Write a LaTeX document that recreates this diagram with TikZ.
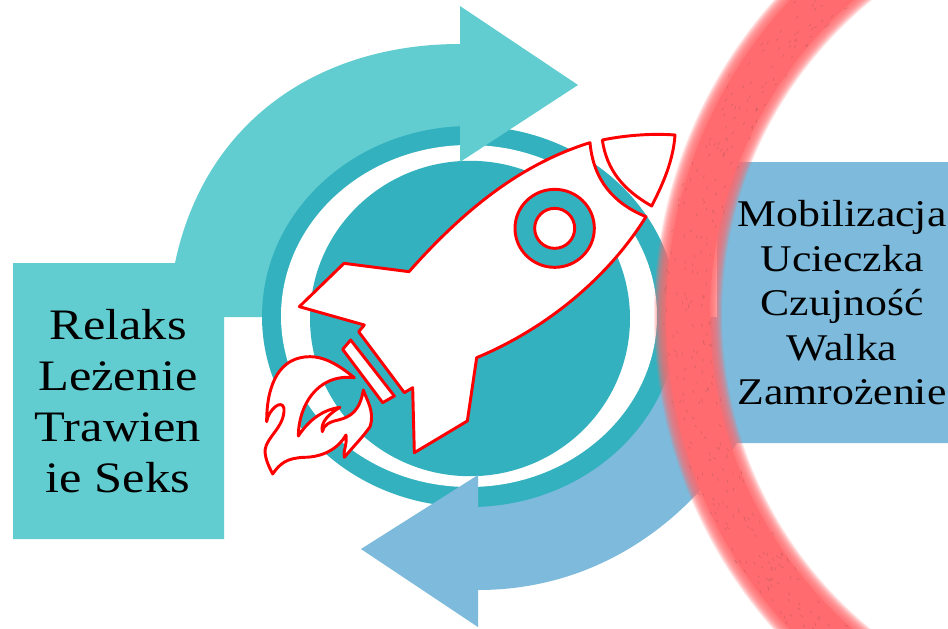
\documentclass[tikz,border=0pt]{standalone}
\usepackage{fontspec}
\usetikzlibrary{calc}
\setmainfont[FakeStretch=1.16]{Liberation Serif}
\definecolor{lightteal}{HTML}{62CDD0}
\definecolor{ringteal}{HTML}{33B1BF}
\definecolor{softblue}{HTML}{7DBADB}
\definecolor{hazered}{HTML}{FF6B6E}
\definecolor{fleck}{HTML}{B85A60}
\tikzset{
  rocketline/.style={draw=red,line width=2.2pt,line join=round,fill=white},
  labeltext/.style={align=center,text=black,inner sep=0pt}
}
\begin{document}
\begin{tikzpicture}[x=0.75pt,y=-0.75pt]
\clip (0,0) rectangle (948,628);
\fill[white] (0,0) rectangle (948,628);
% light arrow body and box
\fill[lightteal] (13,263) -- (175,263) .. controls (205,120) and (320,44) .. (460,44)
  -- (460,300) -- (300,317) -- (224,317) -- (224,539) -- (13,539) -- cycle;
% blue arrow body and box
\fill[softblue] (717,162) -- (948,162) -- (948,443) -- (737,443)
  .. controls (680,530) and (590,590) .. (478,590) -- (478,400) -- (640,317) -- (717,317) -- cycle;
% ring and disk
\fill[ringteal] (470,316.5) ellipse [x radius=208,y radius=190.5];
\fill[white] (469,316) ellipse [x radius=188,y radius=171];
\fill[ringteal] (470,318.5) ellipse [x radius=160,y radius=157.7];
% arrow heads
\fill[lightteal] (460,6) -- (578,85) -- (460,162) -- cycle;
\fill[softblue] (478,475) -- (361,549) -- (478,627) -- cycle;
% rocket
\begin{scope}[shift={(260,120)},scale=1/3]
\path[rocketline] (990,68) .. controls (790,130) and (620,260) .. (447,455)
  -- (252,430) -- (118,560) -- (313,615) -- (296,635) -- (433,818) -- (458,803)
  -- (463,998) -- (622,903) -- (650,713)
  .. controls (850,630) and (1040,480) .. (1158,290)
  .. controls (1060,250) and (1000,180) .. (990,68) -- cycle;
\path[rocketline] (1027,60) .. controls (1100,45) and (1180,40) .. (1245,45)
  .. controls (1240,120) and (1210,190) .. (1175,258)
  .. controls (1090,210) and (1040,150) .. (1027,60) -- cycle;
\path[rocketline,fill=ringteal] (884,325) ellipse [x radius=119,y radius=117];
\path[rocketline] (884,325) circle [radius=60];
\path[rocketline] (272,660) -- (403,828) -- (368,848) -- (248,688) -- cycle;
\path[rocketline] (283,773) .. controls (230,730) and (190,710) .. (150,710)
  .. controls (60,710) and (20,790) .. (20,905)
  .. controls (25,870) and (65,835) .. (72,865)
  .. controls (75,920) and (20,950) .. (15,990)
  .. controls (15,1020) and (30,1045) .. (38,1062)
  .. controls (60,1030) and (80,1015) .. (130,1012)
  .. controls (190,1012) and (235,985) .. (258,945)
  .. controls (262,975) and (248,995) .. (253,1012)
  .. controls (275,985) and (310,950) .. (330,920)
  .. controls (345,875) and (320,840) .. (310,810)
  .. controls (300,870) and (275,890) .. (235,900)
  .. controls (210,905) and (190,915) .. (187,935)
  .. controls (180,905) and (210,880) .. (240,862)
  .. controls (180,870) and (140,910) .. (115,948)
  .. controls (115,860) and (170,760) .. (283,773) -- cycle;
\end{scope}
% blurred arc
\foreach \w in {68,66,...,46}{
  \draw[hazered,line width=0.75pt*\w,opacity=0.17] (1127.5,315) circle [radius=439.5];
}
\draw[hazered,line width=0.75pt*44] (1127.5,315) circle [radius=439.5];
\pgfmathsetseed{7}
\foreach \k in {1,...,320}{
  \pgfmathsetmacro{\ang}{130+100*rnd}
  \pgfmathsetmacro{\rad}{416+48*rnd}
  \pgfmathsetmacro{\tilt}{rnd*60+\ang+60}
  \draw[fleck,line width=0.5pt,opacity=0.5] ($(1127.5,315)+(\ang:\rad)$) -- ++(\tilt:3);
}
% labels
\node[labeltext,font=\fontsize{32.6pt}{38.4pt}\selectfont] (rest) at (118,401) {Relaks\\Leżenie\\Trawien\\ie Seks};
\node[labeltext,font=\fontsize{28.3pt}{33.4pt}\selectfont] (alert) at (842,303) {Mobilizacja\\Ucieczka\\Czujność\\Walka\\Zamrożenie};
\end{tikzpicture}
\end{document}
